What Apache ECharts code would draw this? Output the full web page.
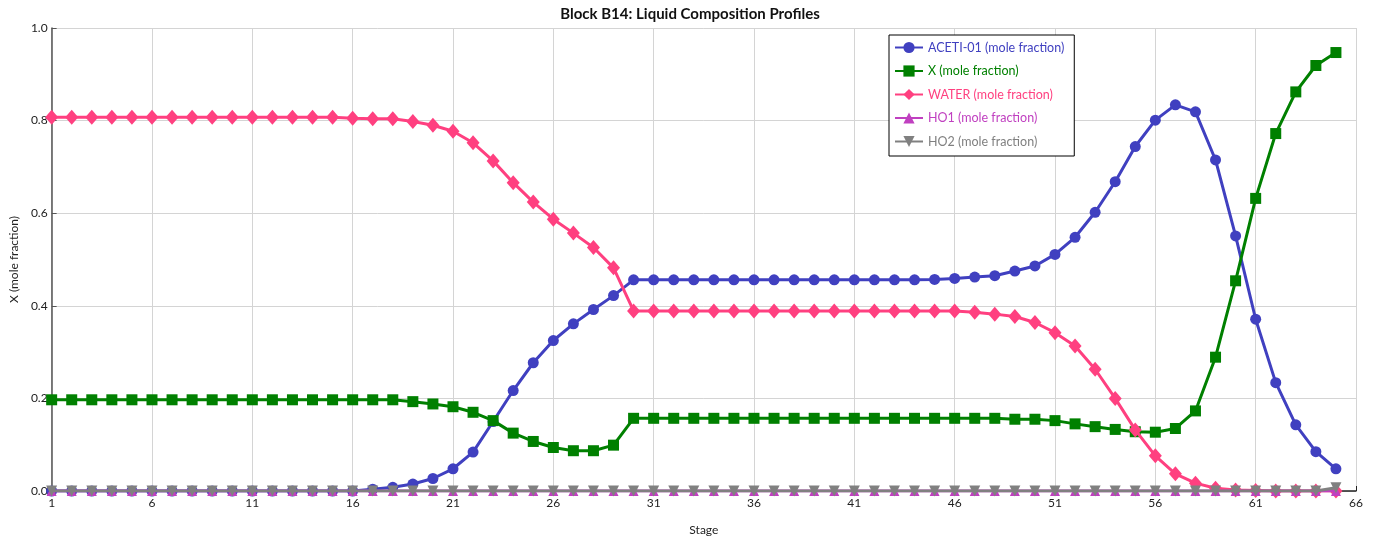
<!DOCTYPE html>
<html>
<head>
<meta charset="utf-8">
<script src="https://cdn.jsdelivr.net/npm/echarts@6/dist/echarts.min.js"></script>
<style>html,body{margin:0;padding:0;background:#fff}#c{width:1380px;height:550px}</style>
</head>
<body>
<div id="c"></div>
<script>
const stages = [1,2,3,4,5,6,7,8,9,10,11,12,13,14,15,16,17,18,19,20,21,22,23,24,25,26,27,28,29,30,31,32,33,34,35,36,37,38,39,40,41,42,43,44,45,46,47,48,49,50,51,52,53,54,55,56,57,58,59,60,61,62,63,64,65];
const aceti = [0,0,0,0,0,0,0,0,0,0,
  0,0,0,0,0,0,0.004,0.008,0.015,0.027,
  0.048,0.084,0.150,0.217,0.277,0.325,0.361,0.392,0.422,0.456,
  0.456,0.456,0.456,0.456,0.456,0.456,0.456,0.456,0.456,0.456,
  0.456,0.456,0.456,0.456,0.457,0.459,0.462,0.465,0.475,0.486,
  0.511,0.548,0.602,0.668,0.744,0.801,0.834,0.819,0.715,0.551,
  0.371,0.234,0.143,0.085,0.048];
const xComp = [0.197,0.197,0.197,0.197,0.197,0.197,0.197,0.197,0.197,0.197,
  0.197,0.197,0.197,0.197,0.197,0.197,0.197,0.197,0.193,0.188,
  0.182,0.170,0.152,0.125,0.107,0.094,0.087,0.087,0.099,0.157,
  0.157,0.157,0.157,0.157,0.157,0.157,0.157,0.157,0.157,0.157,
  0.157,0.157,0.157,0.157,0.157,0.157,0.157,0.157,0.155,0.155,
  0.152,0.145,0.139,0.133,0.128,0.127,0.135,0.173,0.289,0.454,
  0.632,0.772,0.862,0.919,0.947];
const water = [0.807,0.807,0.807,0.807,0.807,0.807,0.807,0.807,0.807,0.807,
  0.807,0.807,0.807,0.807,0.807,0.805,0.804,0.804,0.798,0.790,
  0.777,0.752,0.713,0.666,0.624,0.587,0.557,0.526,0.482,0.389,
  0.389,0.389,0.389,0.389,0.389,0.389,0.389,0.389,0.389,0.389,
  0.389,0.389,0.389,0.389,0.389,0.389,0.386,0.382,0.377,0.364,
  0.342,0.313,0.263,0.200,0.132,0.076,0.037,0.017,0.006,0.002,
  0.001,0,0,0,0];
const ho1 = [0,0,0,0,0,0,0,0,0,0,0,0,0,0,0,0,0,0,0,0,0,0,0,0,0,0,0,0,0,0,0,0,0,0,0,0,0,0,0,0,0,0,0,0,0,0,0,0,0,0,0,0,0,0,0,0,0,0,0,0,0,0,0,0,0];
const ho2 = [0,0,0,0,0,0,0,0,0,0,0,0,0,0,0,0,0,0,0,0,0,0,0,0,0,0,0,0,0,0,0,0,0,0,0,0,0,0,0,0,0,0,0,0,0,0,0,0,0,0,0,0,0,0,0,0,0,0,0,0,0,0,0,0,0.007];
const seriesNames = ['ACETI-01 (mole fraction)','X (mole fraction)','WATER (mole fraction)','HO1 (mole fraction)','HO2 (mole fraction)'];
const colors = ['#4040c0','#008000','#ff4080','#c040c0','#808080'];
const xTicks = {min:1, max:66, interval:5};

const FONT = 'Lato';
const zip = arr => stages.map((s,i)=>[s,arr[i]]);
const defs = [
  {d:aceti, symbol:'circle', size:11},
  {d:xComp, symbol:'rect', size:11},
  {d:water, symbol:'diamond', size:[13,15]},
  {d:ho1, symbol:'triangle', size:10},
  {d:ho2, symbol:'triangle', size:11, rot:180}
];
const chart = echarts.init(document.getElementById('c'));
chart.setOption({
  animation:false,
  backgroundColor:'#fff',
  title:{text:'Block B14: Liquid Composition Profiles', left:'center', top:2,
    textStyle:{fontFamily:FONT, fontSize:15, fontWeight:'bold', color:'#111'}},
  grid:{left:50, right:24, top:28, bottom:59},
  legend:{
    orient:'vertical', left:889, top:35,
    backgroundColor:'#fff', borderColor:'#000', borderWidth:1,
    padding:[6,10,8,5], itemGap:10.5, itemWidth:28, itemHeight:14,
    textStyle:{fontFamily:FONT, fontSize:12.5},
    data: seriesNames.map((n,i)=>({name:n, textStyle:{color:colors[i]}}))
  },
  xAxis:{
    type:'value', min:xTicks.min, max:xTicks.max, interval:xTicks.interval,
    name:'Stage', nameLocation:'middle', nameGap:33,
    nameTextStyle:{fontFamily:FONT, fontSize:12, color:'#222'},
    axisLine:{show:true, lineStyle:{color:'#222', width:1.5}},
    axisTick:{show:true, inside:true, length:5, lineStyle:{color:'#222'}},
    axisLabel:{fontFamily:FONT, fontSize:12, color:'#222', margin:6},
    splitLine:{show:true, lineStyle:{color:'#d4d4d4', width:1}}
  },
  yAxis:{
    type:'value', min:0, max:1, interval:0.2,
    name:'X (mole fraction)', nameLocation:'middle', nameGap:28, nameRotate:90,
    nameTextStyle:{fontFamily:FONT, fontSize:12, color:'#222'},
    axisLine:{show:true, lineStyle:{color:'#555', width:1.5}},
    axisTick:{show:true, inside:true, length:5, lineStyle:{color:'#555'}},
    axisLabel:{fontFamily:FONT, fontSize:12, color:'#222', margin:4, formatter:v=>v.toFixed(1)},
    splitLine:{show:true, lineStyle:{color:'#d4d4d4', width:1}}
  },
  series: defs.map((s,i)=>({
    name:seriesNames[i], type:'line', data:zip(s.d),
    symbol:s.symbol, symbolSize:s.size, symbolRotate:s.rot||0, showAllSymbol:true,
    itemStyle:{color:colors[i]}, lineStyle:{color:colors[i], width:3},
    z:2+i
  }))
});
</script>
</body>
</html>
